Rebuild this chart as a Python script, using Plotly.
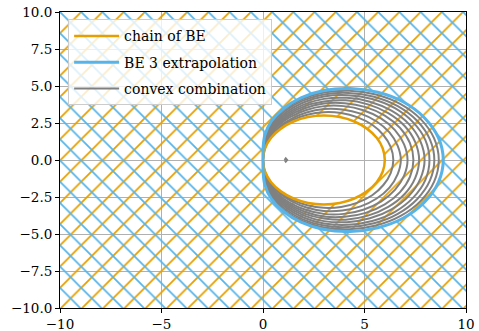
import plotly.graph_objects as go

# ---- data: upper halves of the stability-region boundaries
# (points go from the right-most point, over the top, to the origin; the
#  curves are symmetric about the real axis)
chain_x = [6.00, 5.90, 5.60, 5.12, 4.50, 3.78, 3.00, 2.22, 1.50, 0.88, 0.40, 0.10, 0.00]
chain_y = [0.00, 0.78, 1.50, 2.12, 2.60, 2.90, 3.00, 2.90, 2.60, 2.12, 1.50, 0.78, 0.00]

extrap_x = [8.88, 8.64, 7.95, 6.92, 5.65, 4.29, 3.00, 1.87, 1.00, 0.40, 0.09, 0.006, 0.00]
extrap_y = [0.00, 1.51, 2.86, 3.92, 4.58, 4.83, 4.69, 4.20, 3.46, 2.60, 1.68, 0.80, 0.00]

conv1_x = [6.42, 6.29, 5.93, 5.38, 4.66, 3.85, 3.00, 2.18, 1.44, 0.83, 0.37, 0.09, 0.00]
conv1_y = [0.00, 0.88, 1.69, 2.38, 2.88, 3.17, 3.23, 3.06, 2.70, 2.17, 1.52, 0.78, 0.00]
conv2_x = [6.79, 6.63, 6.23, 5.60, 4.81, 3.91, 3.00, 2.14, 1.39, 0.78, 0.34, 0.08, 0.00]
conv2_y = [0.00, 0.97, 1.86, 2.60, 3.13, 3.41, 3.44, 3.21, 2.78, 2.22, 1.54, 0.78, 0.00]
conv3_x = [7.12, 6.95, 6.50, 5.81, 4.94, 3.98, 3.00, 2.10, 1.33, 0.72, 0.30, 0.07, 0.00]
conv3_y = [0.00, 1.06, 2.02, 2.81, 3.36, 3.64, 3.64, 3.36, 2.89, 2.28, 1.56, 0.79, 0.00]
conv4_x = [7.41, 7.24, 6.75, 6.00, 5.06, 4.03, 3.00, 2.06, 1.28, 0.67, 0.27, 0.06, 0.00]
conv4_y = [0.00, 1.14, 2.17, 3.00, 3.57, 3.84, 3.82, 3.50, 2.98, 2.33, 1.58, 0.79, 0.00]
conv5_x = [7.69, 7.50, 6.98, 6.17, 5.17, 4.08, 3.00, 2.03, 1.24, 0.63, 0.24, 0.05, 0.00]
conv5_y = [0.00, 1.21, 2.30, 3.17, 3.76, 4.03, 3.95, 3.62, 3.06, 2.37, 1.60, 0.79, 0.00]
conv6_x = [7.96, 7.75, 7.19, 6.33, 5.27, 4.13, 3.00, 2.00, 1.19, 0.59, 0.21, 0.04, 0.00]
conv6_y = [0.00, 1.27, 2.42, 3.33, 3.94, 4.20, 4.13, 3.74, 3.13, 2.41, 1.61, 0.79, 0.00]
conv7_x = [8.20, 8.00, 7.40, 6.50, 5.38, 4.17, 3.00, 1.96, 1.14, 0.54, 0.18, 0.03, 0.00]
conv7_y = [0.00, 1.34, 2.54, 3.50, 4.12, 4.38, 4.29, 3.87, 3.22, 2.46, 1.63, 0.80, 0.00]
conv8_x = [8.44, 8.22, 7.59, 6.64, 5.47, 4.21, 3.00, 1.93, 1.09, 0.49, 0.15, 0.02, 0.00]
conv8_y = [0.00, 1.40, 2.65, 3.64, 4.28, 4.53, 4.43, 3.99, 3.31, 2.51, 1.65, 0.80, 0.00]
conv9_x = [8.66, 8.43, 7.77, 6.78, 5.56, 4.25, 3.00, 1.90, 1.04, 0.45, 0.12, 0.01, 0.00]
conv9_y = [0.00, 1.46, 2.76, 3.78, 4.43, 4.68, 4.56, 4.10, 3.39, 2.56, 1.67, 0.80, 0.00]

conv_x = [conv1_x, conv2_x, conv3_x, conv4_x, conv5_x, conv6_x, conv7_x, conv8_x, conv9_x]
conv_y = [conv1_y, conv2_y, conv3_y, conv4_y, conv5_y, conv6_y, conv7_y, conv8_y, conv9_y]

# small island of a convex combination near z = 1.1
island_x = [1.06, 1.12, 1.19, 1.12, 1.06]
island_y = [0.00, 0.11, 0.00, -0.11, 0.00]

names = ["chain of BE", "BE 3 extrapolation", "convex combination"]
xticks = [-10, -5, 0, 5, 10]
yticks = [-10, -7.5, -5, -2.5, 0, 2.5, 5, 7.5, 10]

ORANGE = "#E69F00"
BLUE = "#56B4E9"
GRAY = "#808080"
FONT = "DejaVu Serif"


def closed(xs, ys):
    """mirror an upper half into a closed curve (counter-clockwise)."""
    fx = list(xs) + list(xs[-2::-1])
    fy = list(ys) + [-v for v in ys[-2::-1]]
    return fx, fy


# big outer box (clockwise) so the hatch covers everything outside a curve
box_x = [-40, -40, 40, 40, -40]
box_y = [-40, 40, 40, -40, -40]

fig = go.Figure()

# hatched stable regions (outside the curves)
for (cx, cy), shape, col in [((chain_x, chain_y), "/", ORANGE),
                             ((extrap_x, extrap_y), "\\", BLUE)]:
    fx, fy = closed(cx, cy)
    fig.add_trace(go.Scatter(
        x=box_x + [None] + fx, y=box_y + [None] + fy,
        mode="lines", line=dict(width=0), fill="toself",
        fillcolor="rgba(0,0,0,0)",
        fillpattern=dict(shape=shape, fgcolor=col, bgcolor="rgba(0,0,0,0)",
                         size=15, solidity=0.12, fillmode="replace"),
        hoverinfo="skip", showlegend=False))

# convex combinations
for i, (cx, cy) in enumerate(zip(conv_x, conv_y)):
    fx, fy = closed(cx, cy)
    fig.add_trace(go.Scatter(
        x=fx, y=fy, mode="lines", line=dict(color=GRAY, width=2, shape="spline"),
        name=names[2], legendgroup="c", legendrank=3, showlegend=(i == 0),
        hoverinfo="skip"))
fig.add_trace(go.Scatter(
    x=island_x, y=island_y, mode="lines", line=dict(color=GRAY, width=2),
    legendgroup="c", showlegend=False, hoverinfo="skip"))

fx, fy = closed(chain_x, chain_y)
fig.add_trace(go.Scatter(x=fx, y=fy, mode="lines",
                         line=dict(color=ORANGE, width=2.5, shape="spline"),
                         name=names[0], legendgroup="a", legendrank=1,
                         hoverinfo="skip"))
fx, fy = closed(extrap_x, extrap_y)
fig.add_trace(go.Scatter(x=fx, y=fy, mode="lines",
                         line=dict(color=BLUE, width=3, shape="spline"),
                         name=names[1], legendgroup="b", legendrank=2,
                         hoverinfo="skip"))

axis_common = dict(
    range=[-10, 10], showgrid=True, gridcolor="#b0b0b0", gridwidth=0.8,
    zeroline=False, showline=True, linecolor="black", linewidth=1, mirror=True,
    ticks="outside", ticklen=4, tickwidth=1, tickcolor="black", automargin=False,
    tickfont=dict(family=FONT, size=13.5, color="black"),
)
fig.update_xaxes(tickvals=xticks, **axis_common)
fig.update_yaxes(tickvals=yticks, tickformat=".1f", **axis_common)

fig.update_layout(
    width=479, height=331,
    margin=dict(l=60, r=13, t=12, b=23),
    paper_bgcolor="white", plot_bgcolor="white",
    font=dict(family=FONT, size=14, color="black"),
    legend=dict(x=0.02, y=0.975, xanchor="left", yanchor="top",
                bgcolor="rgba(255,255,255,0.8)", bordercolor="#cccccc",
                borderwidth=1, tracegroupgap=5, itemwidth=45,
                font=dict(family=FONT, size=14, color="black")),
    showlegend=True,
)

fig.write_html("out.html")
